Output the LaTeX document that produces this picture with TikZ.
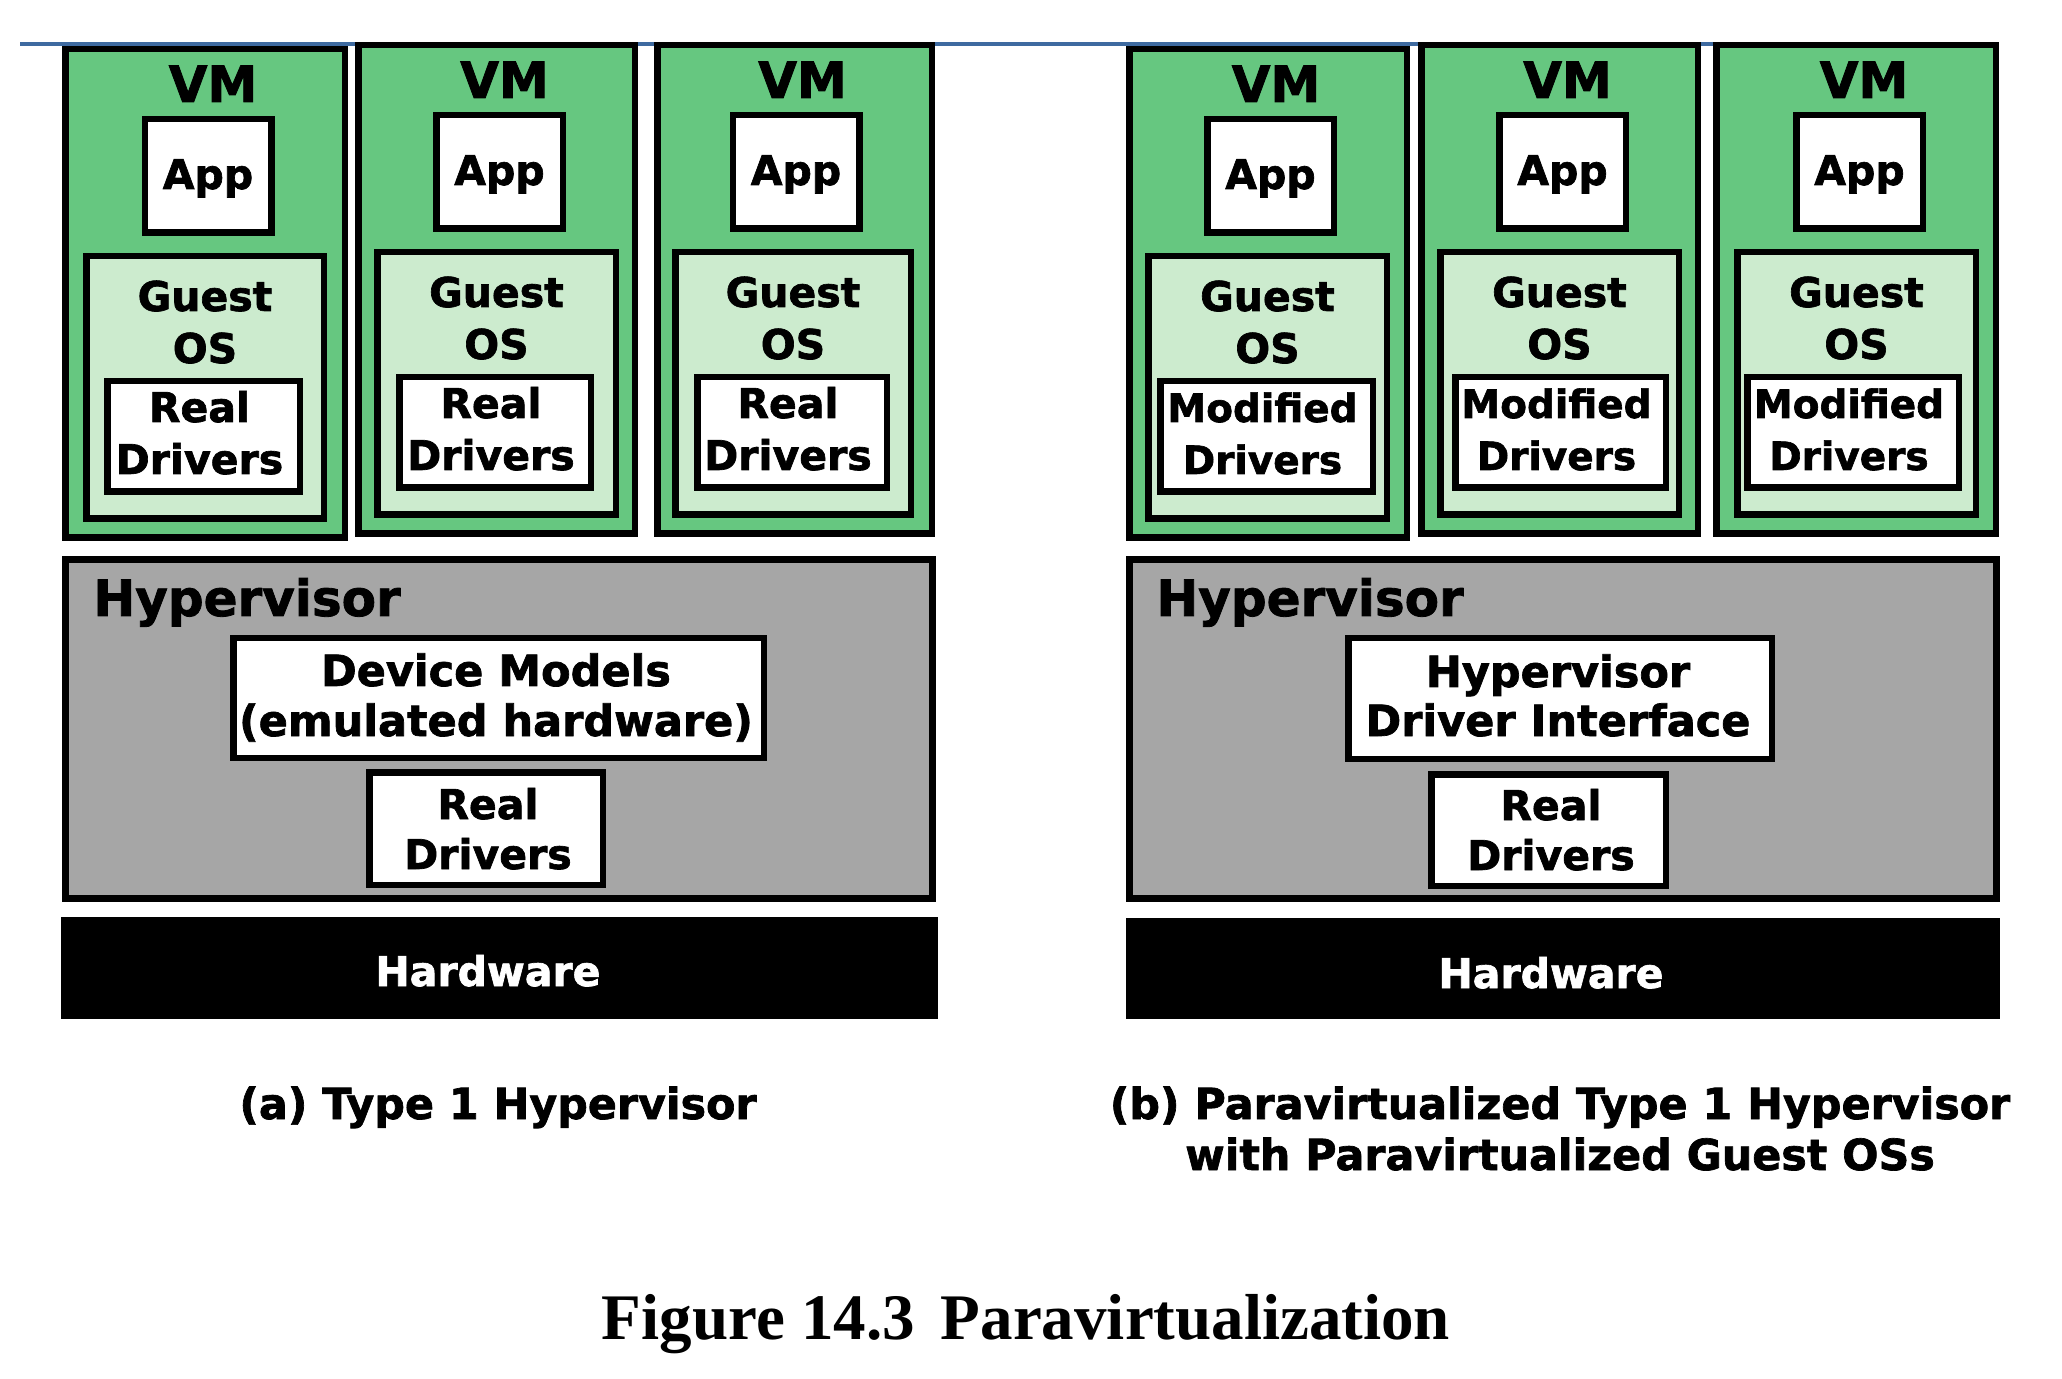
\documentclass[tikz,border=0pt]{standalone}
\usepackage{fontspec}
\newfontfamily\dv{DejaVu Sans}[BoldFeatures={FakeBold=1.6}]
\newfontfamily\tnr{Liberation Serif}
\usetikzlibrary{fit}
\definecolor{vmgreen}{RGB}{102,199,128}
\definecolor{osgreen}{RGB}{204,235,206}
\definecolor{hvgray}{RGB}{166,166,166}
\definecolor{bluerule}{RGB}{62,106,160}
\tikzset{
  boxbase/.style={draw=black, line width=3.25pt, inner sep=0pt, outer sep=0pt},
  vmbox/.style={boxbase, fill=vmgreen},
  osbox/.style={boxbase, fill=osgreen},
  whitebox/.style={boxbase, fill=white},
  hvbox/.style={boxbase, line width=3.5pt, fill=hvgray},
  hwbox/.style={fill=black, draw=none, inner sep=0pt, outer sep=0pt},
  txt/.style={anchor=base, inner sep=0pt, font=\dv\bfseries\fontsize{20.5}{24}\selectfont},
  smalltxt/.style={txt, font=\dv\bfseries\fontsize{19.5}{24}\selectfont},
  midtxt/.style={txt, font=\dv\bfseries\fontsize{21.5}{25}\selectfont},
  bigtxt/.style={txt, font=\dv\bfseries\fontsize{25}{30}\selectfont},
  captxt/.style={txt, font=\dv\bfseries\fontsize{21.4}{25}\selectfont},
  figtxt/.style={anchor=base, inner sep=0pt, font=\tnr\bfseries\fontsize{32.5}{38}\selectfont},
}
% #1 id, #2 vm x1, #3 vm x2, #4 vm top, #5 guest x1, #6 guest x2, #7 drv x1, #8 drv x2, #9 driver word style
\newcommand{\vmunit}[9]{%
  \node[vmbox, fit={({#2+3.25},{#4+3.25}) ({#3-3.25},{#4+491.75})}] (vm#1) {};
  \node[bigtxt] (vmlbl#1) at ({(#2+#3)/2+8},{#4+56}) {VM};
  \node[whitebox, fit={({(#5+#6)/2+3-63.25},{#4+73.25}) ({(#5+#6)/2+3+63.25},{#4+186.75})}] (app#1) {};
  \node[txt] (applbl#1) at ({(#5+#6)/2+3},{#4+143}) {App};
  \node[osbox, fit={({#5+3.25},{#4+210.25}) ({#6-3.25},{#4+472.75})}] (os#1) {};
  \node[txt] (guestlbl#1) at ({(#5+#6)/2},{#4+265}) {Guest};
  \node[txt] (oslbl#1) at ({(#5+#6)/2},{#4+317}) {OS};
  \node[whitebox, fit={({#7+3.25},{#4+335.25}) ({#8-3.25},{#4+445.75})}] (drv#1) {};
  \ifnum#9=1
    \node[txt] (drvA#1) at ({(#7+#8)/2-4},{#4+376}) {Real};
    \node[txt] (drvB#1) at ({(#7+#8)/2-4},{#4+428}) {Drivers};
  \else
    \node[smalltxt] (drvA#1) at ({(#7+#8)/2-4},{#4+376}) {Modified};
    \node[smalltxt] (drvB#1) at ({(#7+#8)/2-4},{#4+428}) {Drivers};
  \fi
}
\begin{document}
\begin{tikzpicture}[x=0.5pt,y=-0.5pt]
\useasboundingbox (0,0) rectangle (2062,1379);
% top rule
\coordinate (ruleL) at (20,44);
\coordinate (ruleR) at (1713,44);
\draw[bluerule, line width=2pt] (ruleL) -- (ruleR);
% VMs (a)
\vmunit{1}{62}{348}{46}{83}{327}{104}{303}{1}
\vmunit{2}{355}{638}{42}{374}{619}{396}{594}{1}
\vmunit{3}{654}{935}{42}{672}{914}{694}{890}{1}
% VMs (b)
\vmunit{4}{1126}{1410}{46}{1145}{1390}{1157}{1376}{2}
\vmunit{5}{1418}{1701}{42}{1437}{1682}{1452}{1669}{2}
\vmunit{6}{1713}{1999}{42}{1734}{1979}{1744}{1962}{2}
% Hypervisor (a)
\node[hvbox, fit={(65.5,559.5) (932.5,898.5)}] (hvA) {};
\node[bigtxt, anchor=base west] (hvAlbl) at (93,616) {Hypervisor};
\node[whitebox, fit={(233.25,638.25) (763.75,757.75)}] (dmA) {};
\node[midtxt] (dmA1) at (496,686) {Device Models};
\node[midtxt] (dmA2) at (496,736) {(emulated hardware)};
\node[whitebox, fit={(369.25,772.25) (602.75,884.75)}] (rdA) {};
\node[txt] (rdA1) at (488,819) {Real};
\node[txt] (rdA2) at (488,869) {Drivers};
\node[hwbox, fit={(61,917) (938,1019)}] (hwA) {};
\node[txt, text=white] (hwAlbl) at (488,986) {Hardware};
% Hypervisor (b)
\node[hvbox, fit={(1129.5,559.5) (1996.5,898.5)}] (hvB) {};
\node[bigtxt, anchor=base west] (hvBlbl) at (1156,616) {Hypervisor};
\node[whitebox, fit={(1348.25,638.25) (1771.75,758.75)}] (hdi) {};
\node[midtxt] (hdi1) at (1558,687) {Hypervisor};
\node[midtxt] (hdi2) at (1558,736) {Driver Interface};
\node[whitebox, fit={(1431.25,774.25) (1665.75,885.75)}] (rdB) {};
\node[txt] (rdB1) at (1551,820) {Real};
\node[txt] (rdB2) at (1551,870) {Drivers};
\node[hwbox, fit={(1126,918) (2000,1019)}] (hwB) {};
\node[txt, text=white] (hwBlbl) at (1551,988) {Hardware};
% captions
\node[captxt] (capA) at (498,1119) {(a) Type 1 Hypervisor};
\node[captxt] (capB1) at (1560,1119) {(b) Paravirtualized Type 1 Hypervisor};
\node[captxt] (capB2) at (1560,1170) {with Paravirtualized Guest OSs};
\node[figtxt] (figcap) at (1026,1339) {Figure 14.3\hspace{0.15em} Paravirtualization};
\end{tikzpicture}
\end{document}
